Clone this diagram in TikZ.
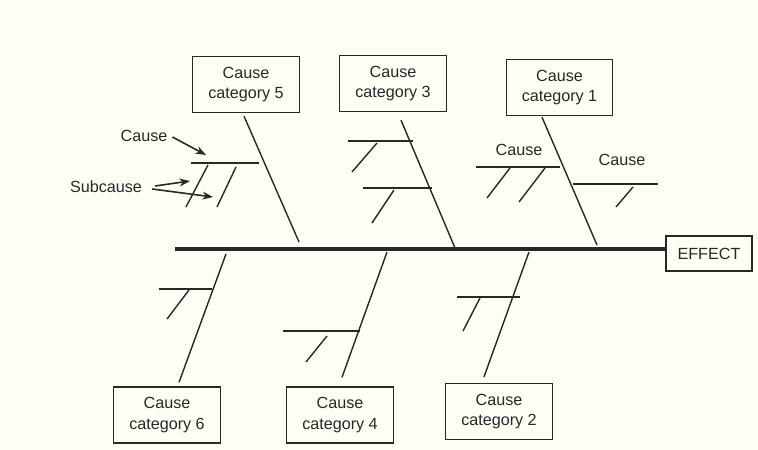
\documentclass[tikz,border=0pt]{standalone}
\usepackage{fontspec}
\setmainfont{Liberation Sans}
\usetikzlibrary{arrows.meta}

\definecolor{paper}{RGB}{254,254,245}
\definecolor{ink}{RGB}{40,40,40}

\begin{document}
\begin{tikzpicture}[x=0.02cm, y=-0.02cm,
  catbox/.style={rectangle, draw=ink, line width=0.75pt, minimum width=2.13cm, minimum height=1.12cm, align=center, font=\fontsize{9.2}{11.5}\selectfont, text=ink, inner sep=1pt},
  effbox/.style={catbox, minimum width=1.72cm, minimum height=0.7cm},
  bone/.style={draw=ink, line width=0.8pt},
  spine/.style={draw=ink, line width=2.3pt},
  note/.style={font=\fontsize{9.2}{11}\selectfont, text=ink, inner sep=1pt},
  pointer/.style={->, draw=ink, line width=0.9pt},
  >={Stealth[length=6pt,width=4.5pt]}
]
  % page
  \fill[paper] (0,0) rectangle (758,450);
  \useasboundingbox (0,0) rectangle (758,450);

  % category boxes
  \node[catbox] (c5) at (246,84.5) {Cause\\category 5};
  \node[catbox] (c3) at (393,83.5) {Cause\\category 3};
  \node[catbox] (c1) at (559.5,87.5) {Cause\\category 1};
  \node[catbox] (c6) at (167,415) {Cause\\category 6};
  \node[catbox] (c4) at (340,415) {Cause\\category 4};
  \node[catbox] (c2) at (499,411.5) {Cause\\category 2};
  \node[effbox] (effect) at (709,253.5) {EFFECT};

  % spine and where the bones meet it
  \coordinate (tail) at (175,249);
  \coordinate (b5) at (299,242);
  \coordinate (b3) at (455,248);
  \coordinate (b1) at (597,245);
  \coordinate (b6) at (226,254);
  \coordinate (b4) at (387,252);
  \coordinate (b2) at (529,252);
  \draw[spine] (tail) -- (tail -| effect.west);

  % main bones
  \draw[bone] (c5.south) ++(-2,3) -- (b5);
  \draw[bone] (c3.south) ++(8,8) -- (b3);
  \draw[bone] (c1.south) ++(-17.5,1) -- (b1);
  \draw[bone] (c6.north) ++(12,-4) -- (b6);
  \draw[bone] (c4.north) ++(2,-9) -- (b4);
  \draw[bone] (c2.north) ++(-15,-6) -- (b2);

  % causes and subcauses, top row
  \draw[bone] (191,163) -- (259,163);
  \draw[bone] (208,165) -- (186,207);
  \draw[bone] (236,167) -- (217,207);

  \draw[bone] (348,141) -- (413,141);
  \draw[bone] (377,143) -- (352,172);
  \draw[bone] (363,188) -- (432,188);
  \draw[bone] (394,190) -- (372,223);

  \draw[bone] (476,167) -- (560,167);
  \draw[bone] (510,168) -- (487,198);
  \draw[bone] (545,168) -- (519,202);
  \draw[bone] (573,184) -- (658,184);
  \draw[bone] (633,187) -- (616,207);

  % causes and subcauses, bottom row
  \draw[bone] (159,289) -- (212,289);
  \draw[bone] (189,290) -- (167,319);
  \draw[bone] (283,331) -- (360,331);
  \draw[bone] (327,336) -- (306,362);
  \draw[bone] (457,297) -- (520,297);
  \draw[bone] (480,298) -- (463,331);

  % labels
  \node[note] (lcause) at (144,136) {Cause};
  \node[note] (lsub) at (106,187) {Subcause};
  \node[note] (lc1a) at (519,150) {Cause};
  \node[note] (lc1b) at (622,160) {Cause};

  \coordinate (pc) at (206,155);
  \coordinate (ps1) at (190,181);
  \coordinate (ps2) at (213,197);
  \draw[pointer] (lcause.east) ++(3,1) -- (pc);
  \draw[pointer] (lsub.east) ++(11,-1) -- (ps1);
  \draw[pointer] (lsub.east) ++(8,2) -- (ps2);
\end{tikzpicture}
\end{document}
